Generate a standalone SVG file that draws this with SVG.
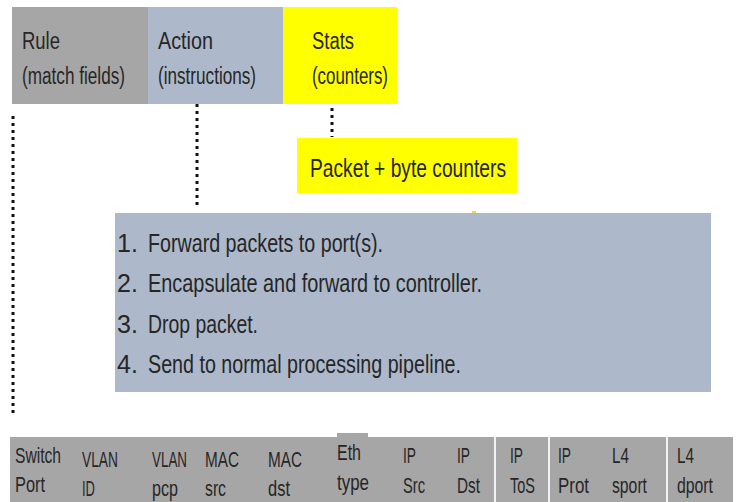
<svg xmlns="http://www.w3.org/2000/svg" width="738" height="502" viewBox="0 0 738 502">
<defs>
<style>
text{font-family:"Liberation Sans Narrow","Liberation Sans",Arial,sans-serif;fill:#262626;}
.hd{font-size:23px;}
.it{font-size:25px;}
.ft{font-size:22px;}
.dot{stroke:#111;stroke-width:3;stroke-dasharray:3 4;fill:none;}
.gray{fill:#a6a6a6;}
.blue{fill:#adb9ca;}
.yel{fill:#ffff00;}
</style>
</defs>
<rect width="738" height="502" fill="#ffffff"/>
<g id="connectors">
<line class="dot" x1="13" y1="116" x2="13" y2="416"/>
<line class="dot" x1="197" y1="104" x2="197" y2="208"/>
<line class="dot" x1="332" y1="108" x2="332" y2="137"/>
</g>
<g id="rule">
<rect class="gray" x="12" y="7" width="136" height="97"/>
<text class="hd" x="22" y="49" textLength="38" lengthAdjust="spacingAndGlyphs">Rule</text>
<text class="hd" x="22" y="84" textLength="103" lengthAdjust="spacingAndGlyphs">(match fields)</text>
</g>
<g id="action">
<rect class="blue" x="148" y="7" width="135" height="97"/>
<text class="hd" x="158" y="49" textLength="55" lengthAdjust="spacingAndGlyphs">Action</text>
<text class="hd" x="158" y="84" textLength="98" lengthAdjust="spacingAndGlyphs">(instructions)</text>
</g>
<g id="stats">
<rect class="yel" x="283" y="7" width="114" height="97"/>
<text class="hd" x="312" y="49" textLength="42" lengthAdjust="spacingAndGlyphs">Stats</text>
<text class="hd" x="312" y="84" textLength="76" lengthAdjust="spacingAndGlyphs">(counters)</text>
</g>
<g id="packet-counters">
<rect class="yel" x="297" y="138" width="220" height="55"/>
<text class="it" x="310" y="177" textLength="196" lengthAdjust="spacingAndGlyphs">Packet + byte counters</text>
</g>
<g id="actions-list">
<rect x="472" y="211" width="4" height="2" fill="#e8d84a"/>
<rect class="blue" x="115" y="213" width="596" height="179"/>
<text class="it" x="117" y="252">1.</text>
<text class="it" x="148" y="252" textLength="235" lengthAdjust="spacingAndGlyphs">Forward packets to port(s).</text>
<text class="it" x="117" y="292">2.</text>
<text class="it" x="148" y="292" textLength="334" lengthAdjust="spacingAndGlyphs">Encapsulate and forward to controller.</text>
<text class="it" x="117" y="333">3.</text>
<text class="it" x="148" y="333" textLength="110" lengthAdjust="spacingAndGlyphs">Drop packet.</text>
<text class="it" x="117" y="373">4.</text>
<text class="it" x="148" y="373" textLength="313" lengthAdjust="spacingAndGlyphs">Send to normal processing pipeline.</text>
</g>
<g id="match-fields">
<rect class="gray" x="10" y="437" width="723" height="65"/>
<rect class="gray" x="337" y="433" width="31" height="6"/>
<line x1="495" y1="437" x2="495" y2="502" stroke="#f2f2f2" stroke-width="2"/>
<line x1="549" y1="437" x2="549" y2="502" stroke="#f2f2f2" stroke-width="2"/>
<line x1="667" y1="437" x2="667" y2="502" stroke="#f2f2f2" stroke-width="2"/>
<text class="ft" x="15" y="463" textLength="46" lengthAdjust="spacingAndGlyphs">Switch</text>
<text class="ft" x="15" y="492" textLength="30" lengthAdjust="spacingAndGlyphs">Port</text>
<text class="ft" x="82" y="467" textLength="36" lengthAdjust="spacingAndGlyphs">VLAN</text>
<text class="ft" x="82" y="496" textLength="13" lengthAdjust="spacingAndGlyphs">ID</text>
<text class="ft" x="152" y="467" textLength="35" lengthAdjust="spacingAndGlyphs">VLAN</text>
<text class="ft" x="152" y="496" textLength="26" lengthAdjust="spacingAndGlyphs">pcp</text>
<text class="ft" x="205" y="467" textLength="34" lengthAdjust="spacingAndGlyphs">MAC</text>
<text class="ft" x="205" y="496" textLength="21" lengthAdjust="spacingAndGlyphs">src</text>
<text class="ft" x="268" y="467" textLength="34" lengthAdjust="spacingAndGlyphs">MAC</text>
<text class="ft" x="268" y="496" textLength="22" lengthAdjust="spacingAndGlyphs">dst</text>
<text class="ft" x="337" y="460" textLength="24" lengthAdjust="spacingAndGlyphs">Eth</text>
<text class="ft" x="337" y="490" textLength="32" lengthAdjust="spacingAndGlyphs">type</text>
<text class="ft" x="403" y="463" textLength="13" lengthAdjust="spacingAndGlyphs">IP</text>
<text class="ft" x="403" y="493" textLength="22" lengthAdjust="spacingAndGlyphs">Src</text>
<text class="ft" x="457" y="463" textLength="13" lengthAdjust="spacingAndGlyphs">IP</text>
<text class="ft" x="457" y="493" textLength="23" lengthAdjust="spacingAndGlyphs">Dst</text>
<text class="ft" x="510" y="463" textLength="13" lengthAdjust="spacingAndGlyphs">IP</text>
<text class="ft" x="510" y="493" textLength="25" lengthAdjust="spacingAndGlyphs">ToS</text>
<text class="ft" x="558" y="463" textLength="13" lengthAdjust="spacingAndGlyphs">IP</text>
<text class="ft" x="558" y="493" textLength="31" lengthAdjust="spacingAndGlyphs">Prot</text>
<text class="ft" x="612" y="463" textLength="17" lengthAdjust="spacingAndGlyphs">L4</text>
<text class="ft" x="612" y="493" textLength="35" lengthAdjust="spacingAndGlyphs">sport</text>
<text class="ft" x="677" y="463" textLength="17" lengthAdjust="spacingAndGlyphs">L4</text>
<text class="ft" x="677" y="493" textLength="36" lengthAdjust="spacingAndGlyphs">dport</text>
</g>
</svg>
